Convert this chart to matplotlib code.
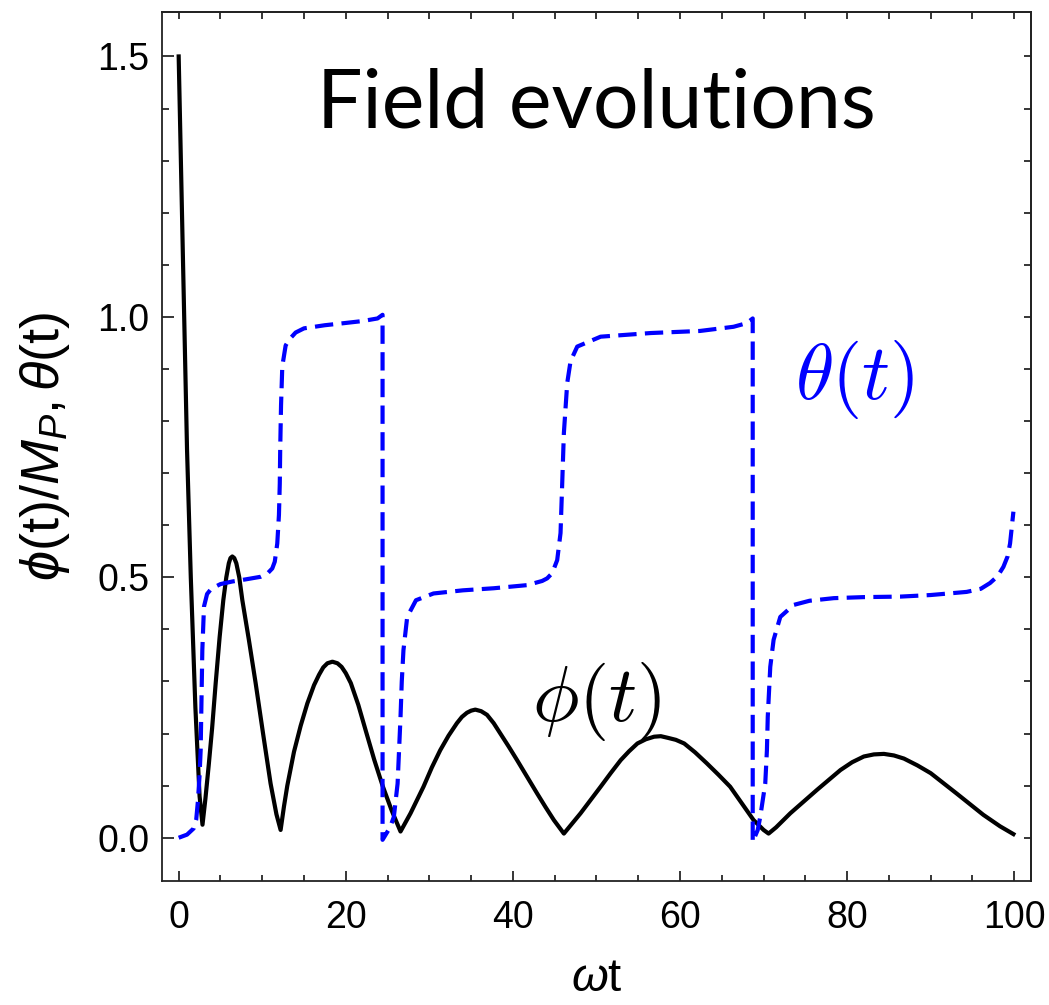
import matplotlib
matplotlib.use("Agg")
import matplotlib.pyplot as plt
from matplotlib.ticker import MultipleLocator, FormatStrFormatter

plt.rcParams['font.family'] = ['Liberation Sans', 'DejaVu Sans']
plt.rcParams['mathtext.fontset'] = 'custom'
plt.rcParams['mathtext.rm'] = 'Liberation Sans'
plt.rcParams['mathtext.it'] = 'Liberation Sans:italic'
plt.rcParams['mathtext.fallback'] = 'stixsans'

# phi(t)/M_P, read from the numerical solution
t_phi = [0.0, 0.5, 1.0, 1.45, 2.0, 2.5, 2.85,
         3.2, 3.6, 4.0, 4.43, 4.9, 5.34, 5.7, 6.0, 6.2, 6.42, 6.65, 6.9, 7.25, 7.62, 8.4, 9.21, 10.1, 11.0, 11.7, 12.2,
         12.6, 13.0, 13.8, 14.6, 15.4, 16.2, 16.8, 17.3, 17.8, 18.4, 19.0, 19.5, 20.0, 20.6, 21.5, 22.4, 23.4, 24.4,
         25.5, 26.55,
         27.75, 29.3, 30.3, 31.3, 32.3, 33.3, 33.9, 34.5, 35.0, 35.5, 36.2, 36.9, 37.7, 38.5, 39.5, 40.5, 41.7,
         42.9, 43.9, 44.9, 46.1,
         48.1, 50.5, 51.7, 52.9, 53.9, 54.9, 55.9, 56.9, 57.7, 58.5, 59.5, 60.5, 61.8, 63.2, 64.6, 66.0, 67.4,
         68.8, 70.0, 70.6,
         71.5, 73.2, 76.4, 79.2, 80.6, 82.0, 83.2, 84.4, 85.6, 86.8, 88.4, 90.0, 93.1, 96.3, 98.3, 99.9]
phi = [1.50, 1.12, 0.745, 0.50, 0.25, 0.08, 0.025,
       0.075, 0.14, 0.21, 0.297, 0.385, 0.456, 0.500, 0.527, 0.537, 0.540, 0.537, 0.527, 0.500, 0.456, 0.38, 0.297,
       0.20, 0.104, 0.045, 0.015,
       0.06, 0.10, 0.165, 0.215, 0.258, 0.293, 0.313, 0.327, 0.335, 0.338, 0.335, 0.328, 0.316, 0.297, 0.255, 0.205,
       0.150, 0.100, 0.052, 0.012,
       0.047, 0.098, 0.135, 0.168, 0.196, 0.220, 0.232, 0.240, 0.244, 0.246, 0.243, 0.236, 0.220, 0.200, 0.175,
       0.149, 0.117, 0.085, 0.059, 0.034, 0.008,
       0.047, 0.098, 0.124, 0.149, 0.166, 0.181, 0.189, 0.194, 0.195, 0.192, 0.188, 0.181, 0.164, 0.143, 0.121,
       0.098, 0.066, 0.034, 0.015, 0.008,
       0.020, 0.047, 0.092, 0.130, 0.145, 0.156, 0.160, 0.161, 0.158, 0.152, 0.139, 0.124, 0.085, 0.044, 0.022, 0.007]

# theta(t), wrapped to [0, 1)
t_theta = [0.0, 1.0, 1.8, 2.1, 2.3, 2.5, 2.63, 2.83, 3.03, 3.4, 3.9, 5.0, 6.42, 8.0, 9.8, 10.6, 11.2, 11.5,
           11.8, 12.0, 12.1, 12.15, 12.25, 12.4, 12.8, 13.2, 14.0, 15.0, 17.5, 19.8, 22.0, 23.8, 24.4,
           24.4, 25.3, 25.75, 26.2, 26.55, 26.7, 26.9, 27.35, 28.4, 30.5, 34.0, 37.7, 41.7, 43.5, 44.1, 44.7,
           45.3, 45.7, 45.9, 46.1, 46.5, 46.9, 47.7, 50.5, 56.5, 62.4, 66.4, 68.0, 68.7,
           68.7, 69.3, 69.6, 70.2, 70.4, 70.5, 70.8, 71.2, 72.0, 73.6, 75.5, 78.4, 82.0, 86.4, 90.0, 94.3,
           96.0, 97.1, 98.0, 98.7, 99.2, 99.5, 99.9]
theta = [0.0, 0.006, 0.018, 0.035, 0.07, 0.12, 0.168, 0.36, 0.444, 0.468, 0.478, 0.487, 0.492, 0.496, 0.501, 0.507,
         0.517, 0.53,
         0.565, 0.62, 0.68, 0.745, 0.83, 0.905, 0.945, 0.956, 0.970, 0.978, 0.984, 0.988, 0.992, 0.997, 1.004,
         -0.004, 0.02, 0.04, 0.104, 0.232, 0.30, 0.36, 0.424, 0.456, 0.469, 0.475, 0.479, 0.485, 0.493, 0.498, 0.508,
         0.533, 0.585, 0.68, 0.777, 0.873, 0.915, 0.943, 0.962, 0.969, 0.973, 0.981, 0.988, 0.997,
         -0.008, 0.015, 0.040, 0.104, 0.168, 0.232, 0.328, 0.38, 0.424, 0.447, 0.455, 0.460, 0.462, 0.463, 0.466, 0.472,
         0.478, 0.489, 0.502, 0.520, 0.540, 0.565, 0.626]

fig = plt.figure(figsize=(10.49, 10.05), dpi=100)
ax = fig.add_axes([0.1544, 0.1234, 0.8284, 0.865])

ax.plot(t_phi, phi, '-', color='k', lw=3.0, solid_joinstyle='round')
ax.plot(t_theta, theta, '--', color=(0, 0, 1), lw=3.0, dashes=(4.4, 2.0), dash_capstyle='butt')

ax.set_xlim(-2, 102)
ax.set_ylim(-0.083, 1.586)

ax.xaxis.set_major_locator(MultipleLocator(20))
ax.xaxis.set_minor_locator(MultipleLocator(5))
ax.yaxis.set_major_locator(MultipleLocator(0.5))
ax.yaxis.set_minor_locator(MultipleLocator(0.1))
ax.yaxis.set_major_formatter(FormatStrFormatter('%.1f'))

ax.tick_params(axis='x', which='major', direction='in', length=7.5, width=1.1, labelsize=27, pad=14)
ax.tick_params(axis='x', which='minor', direction='in', length=4.2, width=1.1)
ax.tick_params(axis='y', which='major', direction='in', length=8.5, width=1.1, labelsize=27, pad=9)
ax.tick_params(axis='y', which='minor', direction='in', length=5, width=1.1)

# frame ticks on the top and right, all the same length
top = ax.secondary_xaxis('top')
top.xaxis.set_major_locator(MultipleLocator(5))
top.tick_params(direction='in', length=5, width=1.1, labeltop=False)
right = ax.secondary_yaxis('right')
right.yaxis.set_major_locator(MultipleLocator(0.1))
right.tick_params(direction='in', length=5, width=1.1, labelright=False)

for sp in list(ax.spines.values()) + [top.spines['top'], right.spines['right']]:
    sp.set_linewidth(1.3)
    sp.set_color('#222222')

ax.set_xlabel(r'$\omega$t', fontsize=34)
ax.xaxis.label.set_va('baseline')
ax.xaxis.set_label_coords(0.5, -0.127)
ax.set_ylabel(r'$\phi$(t)/$M_P$,$\,\theta$(t)', fontsize=39)
ax.yaxis.set_label_coords(-0.104, 0.5)

ax.text(0.5, 0.867, 'Field evolutions', transform=ax.transAxes, ha='center', va='baseline',
        fontsize=58, family='Lato')
ax.text(80.9, 0.88, r'$\theta(t)$', color=(0, 0, 1), fontsize=56, ha='center', va='center',
        math_fontfamily='cm')
ax.text(50.0, 0.262, r'$\phi(t)$', color='k', fontsize=56, ha='center', va='center',
        math_fontfamily='cm')

plt.savefig('out.png', dpi=100)
